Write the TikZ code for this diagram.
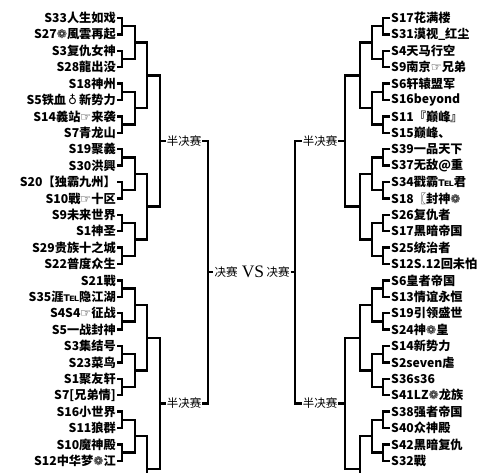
\documentclass[tikz,border=0pt]{standalone}
\usepackage{fontspec}
\setmainfont{Noto Sans CJK SC}
\newfontfamily\symf{DejaVu Sans}
\newfontfamily\vsf{Liberation Serif}
\newcommand\hand{{\symf ☞}}
\newcommand\flw{{\symf ❁}}
\newcommand\tel{{\symf ℡}}

\begin{document}
\begin{tikzpicture}[x=1pt,y=-1pt,
    br/.style={line width=2.5pt},
    teamL/.style={anchor=east,inner sep=1pt,font=\bfseries\fontsize{12.2}{12}\selectfont},
    teamR/.style={anchor=west,inner sep=1pt,font=\bfseries\fontsize{12.2}{12}\selectfont},
    stage/.style={inner sep=1pt,font=\fontsize{11.5}{12}\selectfont}]
  \useasboundingbox (0,0) rectangle (500,472);
  \clip (0,0) rectangle (500,472);
  % teams
  \foreach \t [count=\i] in {S33人生如戏,S27\flw 風雲再起,S3复仇女神,S28龍出没,S18神州,S5铁血\,{\symf ♁}\,新势力,S14義站\hand 来袭,S7青龙山,
      S19聚義,S30洪興,S20【独霸九州】,S10戰\hand 十区,S9未来世界,S1神圣,S29贵族十之城,S22普度众生,
      S21戰,S35涯\tel 隐江湖,S4S4\hand 征战,S5一战封神,S3集结号,S23菜鸟,S1聚友轩,{S7[兄弟情]},
      S16小世界,S11狼群,S10魔神殿,S12中华梦\flw 江}
    \node[teamL] (L\i) at (117,{18+16.4*(\i-1)}) {\t};
  \foreach \t [count=\i] in {S17花满楼,S31漠视\_红尘,S4天马行空,S9南京\hand 兄弟,S6轩辕盟军,S16beyond,S11『巅峰』,S15巅峰、,
      S39一品天下,S37无敌@重,S34戳霸\tel 君,S18〖封神\flw,S26复仇者,S17黑暗帝国,S25统治者,S12S.12回未怕,
      S6皇者帝国,S13情谊永恒,S19引领盛世,S24神\flw 皇,S14新势力,S2seven虐,S36s36,S41LZ\flw 龙族,
      S38强者帝国,S40众神殿,S42黑暗复仇,S32戰}
    \node[teamR] (R\i) at (390,{18+16.4*(\i-1)}) {\t};
  % first round
  \foreach \k in {1,...,14}{
    \pgfmathtruncatemacro\a{2*\k-1}
    \pgfmathtruncatemacro\b{2*\k}
    \coordinate (pL\k) at (122,{18+16.4*(2*\k-1.5)});
    \coordinate (pR\k) at (383,{18+16.4*(2*\k-1.5)});
    \draw[br] (L\a.east) -| (pL\k) |- (L\b.east);
    \draw[br] (R\a.west) -| (pR\k) |- (R\b.west);
  }
  % second round
  \foreach \k in {1,...,7}{
    \pgfmathtruncatemacro\a{2*\k-1}
    \pgfmathtruncatemacro\b{2*\k}
    \coordinate (qL\k) at (135,{18+16.4*(4*\k-2.5)});
    \coordinate (qR\k) at (372,{18+16.4*(4*\k-2.5)});
    \draw[br] (pL\a) -| (qL\k) |- (pL\b);
    \draw[br] (pR\a) -| (qR\k) |- (pR\b);
  }
  % third round
  \foreach \k in {1,...,4}{
    \coordinate (rL\k) at (147,{18+16.4*(8*\k-4.5)});
    \coordinate (rR\k) at (360,{18+16.4*(8*\k-4.5)});
  }
  \foreach \k in {1,...,3}{
    \pgfmathtruncatemacro\a{2*\k-1}
    \pgfmathtruncatemacro\b{2*\k}
    \draw[br] (qL\a) -| (rL\k) |- (qL\b);
    \draw[br] (qR\a) -| (rR\k) |- (qR\b);
  }
  \draw[br] (qL7) -| (rL4) -- ++(0,20);
  \draw[br] (qR7) -| (rR4) -- ++(0,20);
  % quarter
  \coordinate (sL1) at (160,141);  \coordinate (sL2) at (160,403.4);
  \coordinate (sR1) at (345,141);  \coordinate (sR2) at (345,403.4);
  \draw[br] (rL1) -| (sL1) |- (rL2);
  \draw[br] (rL3) -| (sL2) |- (rL4);
  \draw[br] (rR1) -| (sR1) |- (rR2);
  \draw[br] (rR3) -| (sR2) |- (rR4);
  % semi & final
  \node[stage] (semiLT) at (184,141) {半决赛};
  \node[stage] (semiLB) at (184,403.4) {半决赛};
  \node[stage] (semiRT) at (320,141) {半决赛};
  \node[stage] (semiRB) at (320,403.4) {半决赛};
  \coordinate (fL) at (208,272.2);
  \coordinate (fR) at (295,272.2);
  \draw[br] (sL1) -- (semiLT.west);
  \draw[br] (sL2) -- (semiLB.west);
  \draw[br] (sR1) -- (semiRT.east);
  \draw[br] (sR2) -- (semiRB.east);
  \draw[br] (semiLT.east) -| (fL) |- (semiLB.east);
  \draw[br] (semiRT.west) -| (fR) |- (semiRB.west);
  \node[stage] (finL) at (226,272.2) {决赛};
  \node[inner sep=1pt,font=\vsf\fontsize{17.5}{18}\selectfont] (vs) at (253,272.2) {VS};
  \node[stage] (finR) at (278,272.2) {决赛};
  \draw[br] (fL) -- (finL.west);
  \draw[br] (finR.east) -- (fR);
\end{tikzpicture}
\end{document}
